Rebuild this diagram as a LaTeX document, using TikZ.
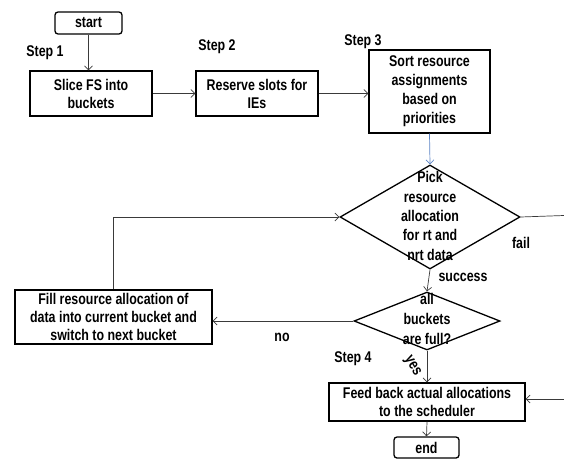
\documentclass[tikz,border=0pt]{standalone}
\usepackage{fontspec}
\setmainfont{Liberation Sans}[FakeStretch=0.8]
\usetikzlibrary{shapes.geometric,arrows.meta}
\definecolor{lnk}{HTML}{3A3A3A}
\definecolor{bluelnk}{HTML}{5B83C4}
\begin{document}
\begin{tikzpicture}[x=1pt,y=-1pt,
  font=\bfseries\fontsize{15.5}{18}\selectfont,
  box/.style={draw=black,line width=1.3pt,inner sep=0pt,align=center},
  term/.style={box,rounded corners=3pt},
  dia/.style={draw=black,line width=1.3pt,diamond,inner sep=0pt},
  lbl/.style={inner sep=0pt},
  conn/.style={draw=lnk,line width=0.7pt,-{Straight Barb[length=4pt,width=8pt]}},
  plain/.style={draw=lnk,line width=0.7pt}]
\useasboundingbox (0,0) rectangle (564,460);
% boxes
\node[term,minimum width=67pt,minimum height=22pt] (start) at (88.5,23) {start};
\node[box,minimum width=122pt,minimum height=45pt] (slice) at (91,93.5) {Slice FS into\\buckets};
\node[box,minimum width=122pt,minimum height=45pt] (reserve) at (257,93.5) {Reserve slots for\\IEs};
\node[box,minimum width=121pt,minimum height=83pt,font=\bfseries\fontsize{15.5}{19}\selectfont] (sort) at (429.5,91.5) {Sort resource\\assignments\\based on\\priorities};
\node[dia,minimum width=180pt,minimum height=104pt] (d1) at (430,217) {};
\node[lbl,align=center,font=\bfseries\fontsize{15.5}{19.3}\selectfont] (d1t) at (430,216) {Pick\\resource\\allocation\\for rt and\\nrt data};
\node[dia,minimum width=146pt,minimum height=58pt] (d2) at (427,321) {};
\node[lbl,align=center,font=\bfseries\fontsize{15.5}{20}\selectfont] (d2t) at (427,319) {all\\buckets\\are full?};
\node[box,minimum width=197pt,minimum height=54pt] (fill) at (113.5,317) {Fill resource allocation of\\data into current bucket and\\switch to next bucket};
\node[box,minimum width=196pt,minimum height=38pt] (feed) at (427,402) {Feed back actual allocations\\to the scheduler};
\node[term,minimum width=65pt,minimum height=21pt] (end) at (426.5,447.5) {end};
% labels
\node[lbl] (s1) at (45,53) {Step 1};
\node[lbl] (s2) at (217,47) {Step 2};
\node[lbl] (s3) at (363,42) {Step 3};
\node[lbl] (s4) at (353,359) {Step 4};
\node[lbl] (fail) at (521,243) {fail};
\node[lbl] (succ) at (463,277) {success};
\node[lbl] (no) at (282,337) {no};
\node[lbl,rotate=-60] (yes) at (412,366) {yes};
% free ends
\coordinate (failend) at (564,215.5);
\coordinate (fbstart) at (564,399);
% connectors
\draw[conn] (start.south) -- (start.south |- slice.north);
\draw[conn] (slice.east) -- (reserve.west);
\draw[conn] (reserve.east) -- (reserve.east -| sort.west);
\draw[conn,draw=bluelnk] (sort.south) -- (d1.north);
\draw[conn] (d1.south) -- (d2.north);
\draw[conn] (d2.west) -- (d2.west -| fill.east);
\draw[conn] (fill.north) |- (d1.west);
\draw[conn] (d2.south) -- (feed.north);
\draw[conn] (feed.south) -- (end.north);
\draw[plain] (d1.east) -- (failend);
\draw[conn] (fbstart) -- (fbstart -| feed.east);
\end{tikzpicture}
\end{document}
